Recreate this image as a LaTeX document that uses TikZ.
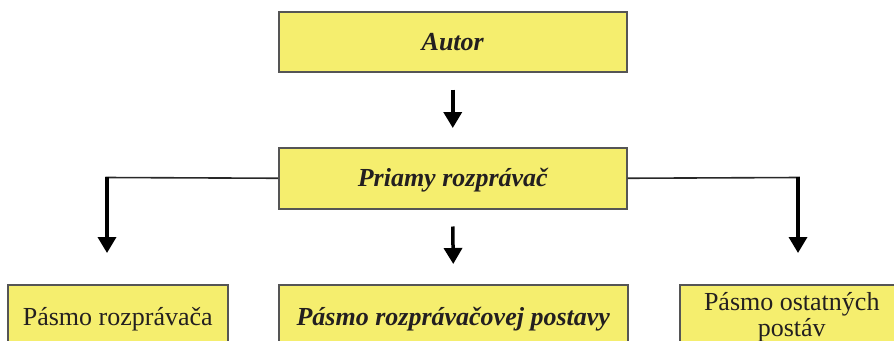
\documentclass[tikz,border=0pt]{standalone}
\usepackage{fontspec}
\setmainfont{Liberation Serif}
\usetikzlibrary{arrows.meta}
\definecolor{boxfill}{RGB}{245,238,110}
\definecolor{boxline}{RGB}{85,85,85}
\definecolor{txt}{RGB}{35,31,32}
\definecolor{conn}{RGB}{40,40,40}
\tikzset{
  boxbase/.style={draw=boxline, line width=1.5pt, fill=boxfill, text=txt,
    rectangle, inner sep=0pt, anchor=north west,
    font=\fontsize{26}{26}\selectfont},
  oneline/.style={boxbase, text height=17.2pt, text depth=0pt},
  emph/.style={font=\fontsize{26}{26}\selectfont\bfseries\itshape},
  thinln/.style={draw=conn, line width=1.6pt},
  arr/.style={draw=black, line width=3.5pt, -{Triangle[length=16pt,width=18pt]}},
}
\begin{document}
\begin{tikzpicture}[x=1pt,y=-1pt]
\useasboundingbox (0,0) rectangle (894,340);
\clip (0,0) rectangle (894,340);
\node[oneline, emph, minimum width=348pt, minimum height=60pt] (a) at (278,11) {Autor};
\node[oneline, emph, minimum width=348pt, minimum height=61pt] (p) at (278,147) {Priamy rozprávač};
\node[oneline, minimum width=220pt, minimum height=64pt] (l) at (7,284) {Pásmo rozprávača};
\node[oneline, emph, minimum width=349pt, minimum height=64pt] (m) at (278,284) {Pásmo rozprávačovej postavy};
\node[boxbase, align=center, minimum width=224pt, minimum height=64pt] (r) at (679,284) {Pásmo ostatných\\postáv};
\coordinate (lc) at (107,177.5);
\coordinate (la) at (107,253);
\coordinate (rc) at (798,177.5);
\coordinate (ra) at (798,253);
\draw[arr] ([yshift=-17pt]a.south) -- ([yshift=19pt]p.north);
\draw[arr] ([yshift=-17pt]p.south) -- ([yshift=20pt]m.north);
\draw[thinln] (p.west) -- ([xshift=-1.75pt]lc);
\draw[arr] ([yshift=0.8pt]lc) -- (la);
\draw[thinln] (p.east) -- ([xshift=1.75pt]rc);
\draw[arr] ([yshift=0.8pt]rc) -- (ra);
\end{tikzpicture}
\end{document}
